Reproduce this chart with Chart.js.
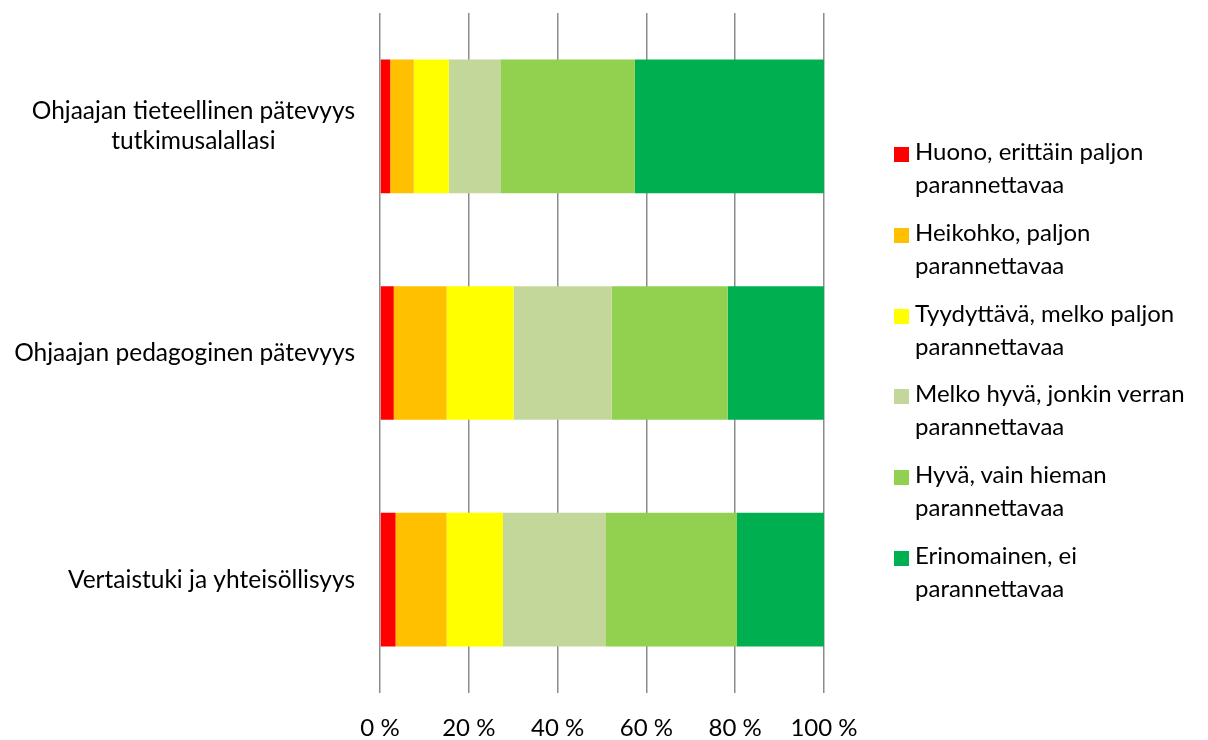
<!DOCTYPE html>
<html>
<head>
<meta charset="utf-8">
<script src="https://cdn.jsdelivr.net/npm/chart.js@4"></script>
<style>
  html, body { margin: 0; padding: 0; background: #fff; }
  #wrap { position: relative; width: 1208px; height: 740px; }
  canvas { display: block; }
  #legend { position: absolute; left: 894px; top: 139px; font-family: Lato, "Open Sans", sans-serif; font-size: 24px; color: #000; }
  .item { position: relative; height: 80.8px; }
  .box { position: absolute; left: 0; top: 8px; width: 15px; height: 15px; }
  .txt { position: absolute; left: 21px; top: -5px; line-height: 33px; white-space: pre; }
</style>
</head>
<body>
<div id="wrap">
  <canvas id="c" width="1208" height="740"></canvas>
  <div id="legend"></div>
</div>
<script>
const categories = [
  ["Ohjaajan tieteellinen pätevyys", "tutkimusalallasi"],
  ["Ohjaajan pedagoginen pätevyys"],
  ["Vertaistuki ja yhteisöllisyys"]
];
const seriesNames = [
  "Huono, erittäin paljon\nparannettavaa",
  "Heikohko, paljon\nparannettavaa",
  "Tyydyttävä, melko paljon\nparannettavaa",
  "Melko hyvä, jonkin verran\nparannettavaa",
  "Hyvä, vain hieman\nparannettavaa",
  "Erinomainen, ei\nparannettavaa"
];
const huono       = [2.3, 3.1, 3.5];
const heikohko    = [5.3, 11.9, 11.5];
const tyydyttava  = [7.9, 15.1, 12.7];
const melkoHyva   = [11.6, 22.1, 23.2];
const hyva        = [30.3, 26.1, 29.5];
const erinomainen = [42.6, 21.7, 19.6];
const xTicks = [0, 20, 40, 60, 80, 100];

const seriesValues = [huono, heikohko, tyydyttava, melkoHyva, hyva, erinomainen];
const colors = ["#FF0000", "#FFC000", "#FFFF00", "#C4D79B", "#92D050", "#00B050"];
const FONT = 'Lato, "Open Sans", sans-serif';

const yLabelPlugin = {
  id: 'yLabels',
  afterDraw(chart) {
    const ctx = chart.ctx;
    const ys = chart.scales.y;
    const right = chart.chartArea.left - 25;
    ctx.save();
    ctx.font = '24.5px ' + FONT;
    ctx.fillStyle = '#000';
    ctx.textBaseline = 'middle';
    ctx.textAlign = 'center';
    const lh = 30;
    categories.forEach((lines, i) => {
      const yc = ys.getPixelForValue(i);
      const maxW = Math.max(...lines.map(l => ctx.measureText(l).width));
      const cx = right - maxW / 2;
      const y0 = yc - (lines.length - 1) * lh / 2;
      lines.forEach((l, j) => ctx.fillText(l, cx, y0 + j * lh));
    });
    ctx.restore();
  }
};

new Chart(document.getElementById('c'), {
  type: 'bar',
  data: {
    labels: categories.map(c => c.join(' ')),
    datasets: seriesNames.map((n, i) => ({
      label: n,
      data: seriesValues[i],
      backgroundColor: colors[i],
      borderWidth: 0,
      categoryPercentage: 1.0,
      barPercentage: 0.59
    }))
  },
  options: {
    indexAxis: 'y',
    responsive: false,
    animation: false,
    layout: { padding: { left: 380, right: 384, top: 13, bottom: 0 } },
    plugins: { legend: { display: false }, tooltip: { enabled: false } },
    scales: {
      x: {
        stacked: true,
        min: 0, max: 100,
        afterBuildTicks(scale) { scale.ticks = xTicks.map(v => ({ value: v })); },
        afterFit(scale) { scale.height = 47; },
        grid: { color: '#8c8c8c', lineWidth: 1.5, drawTicks: false },
        border: { display: false },
        ticks: {
          padding: 21,
          color: '#000',
          maxRotation: 0,
          font: { family: FONT, size: 24 },
          callback: v => v + ' %'
        }
      },
      y: {
        stacked: true,
        display: false
      }
    }
  },
  plugins: [yLabelPlugin]
});

const leg = document.getElementById('legend');
seriesNames.forEach((n, i) => {
  const it = document.createElement('div');
  it.className = 'item';
  const b = document.createElement('div');
  b.className = 'box';
  b.style.background = colors[i];
  const t = document.createElement('div');
  t.className = 'txt';
  t.textContent = n;
  it.appendChild(b); it.appendChild(t);
  leg.appendChild(it);
});
</script>
</body>
</html>
